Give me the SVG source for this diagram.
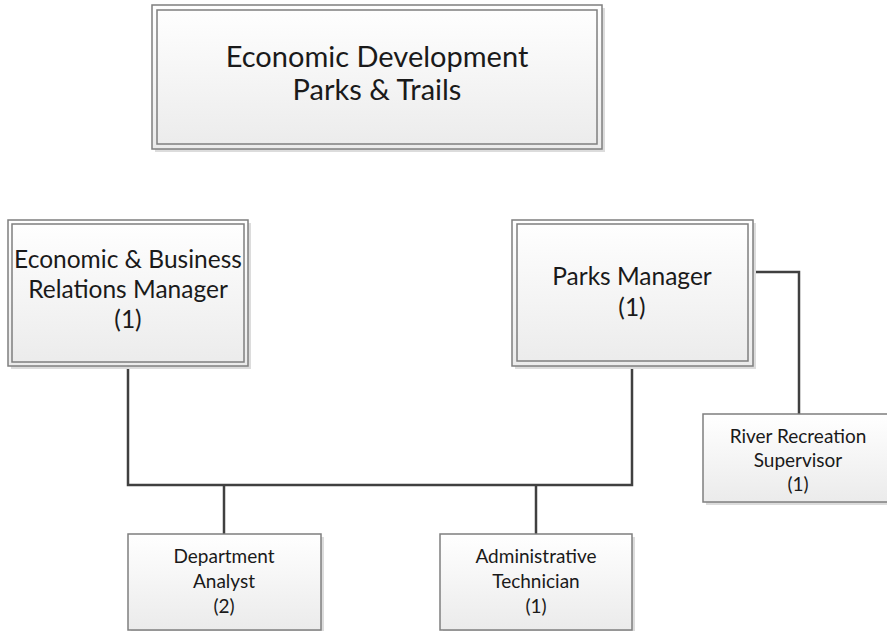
<svg xmlns="http://www.w3.org/2000/svg" width="887" height="631" viewBox="0 0 887 631">
<defs>
<linearGradient id="g" x1="0" y1="0" x2="0" y2="1">
<stop offset="0" stop-color="#ffffff"/>
<stop offset="1" stop-color="#ebebeb"/>
</linearGradient>
<style>
.sh{fill:#dcdcdc}
.bx{fill:url(#g);stroke:#7f7f7f;stroke-width:1.5}
.in{fill:none;stroke:#7f7f7f;stroke-width:1.5}
.t{font-family:Lato,"Liberation Sans",sans-serif;fill:#1a1a1a;text-anchor:middle}
.t1{font-size:29px}
.t2{font-size:24.5px}
.t3{font-size:19px}
.c{fill:none;stroke:#404040;stroke-width:2.5}
</style>
</defs>
<rect width="887" height="631" fill="#ffffff"/>
<g id="connectors">
<polyline class="c" points="128,366 128,485 632,485 632,366"/>
<line class="c" x1="224" y1="485" x2="224" y2="534"/>
<line class="c" x1="536" y1="485" x2="536" y2="534"/>
<polyline class="c" points="753,295 753,272 799,272 799,414"/>
</g>
<g id="title">
<rect class="sh" x="155" y="8" width="450" height="144"/>
<rect class="bx" x="152" y="5" width="450" height="144"/>
<rect class="in" x="157" y="10" width="440" height="134"/>
<text class="t t1" x="377" y="67">Economic Development</text>
<text class="t t1" x="377" y="100">Parks &amp; Trails</text>
</g>
<g id="econ">
<rect class="sh" x="11" y="223" width="240" height="146"/>
<rect class="bx" x="8" y="220" width="240" height="146"/>
<rect class="in" x="12" y="224" width="232" height="138"/>
<text class="t t2" x="128" y="268">Economic &amp; Business</text>
<text class="t t2" x="128" y="298">Relations Manager</text>
<text class="t t2" x="128" y="328">(1)</text>
</g>
<g id="parks">
<rect class="sh" x="515" y="223" width="241" height="146"/>
<rect class="bx" x="512" y="220" width="241" height="146"/>
<rect class="in" x="517" y="224" width="231" height="137"/>
<text class="t t2" x="632" y="285">Parks Manager</text>
<text class="t t2" x="632" y="316">(1)</text>
</g>
<g id="river">
<rect class="sh" x="706" y="417" width="190" height="88"/>
<rect class="bx" x="703" y="414" width="190" height="88"/>
<text class="t t3" x="798" y="443">River Recreation</text>
<text class="t t3" x="798" y="467">Supervisor</text>
<text class="t t3" x="798" y="491">(1)</text>
</g>
<g id="analyst">
<rect class="sh" x="131" y="537" width="193" height="96"/>
<rect class="bx" x="128" y="534" width="193" height="96"/>
<text class="t t3" x="224" y="563">Department</text>
<text class="t t3" x="224" y="588">Analyst</text>
<text class="t t3" x="224" y="613">(2)</text>
</g>
<g id="admin">
<rect class="sh" x="443" y="537" width="192" height="96"/>
<rect class="bx" x="440" y="534" width="192" height="96"/>
<text class="t t3" x="536" y="563">Administrative</text>
<text class="t t3" x="536" y="588">Technician</text>
<text class="t t3" x="536" y="613">(1)</text>
</g>
</svg>
